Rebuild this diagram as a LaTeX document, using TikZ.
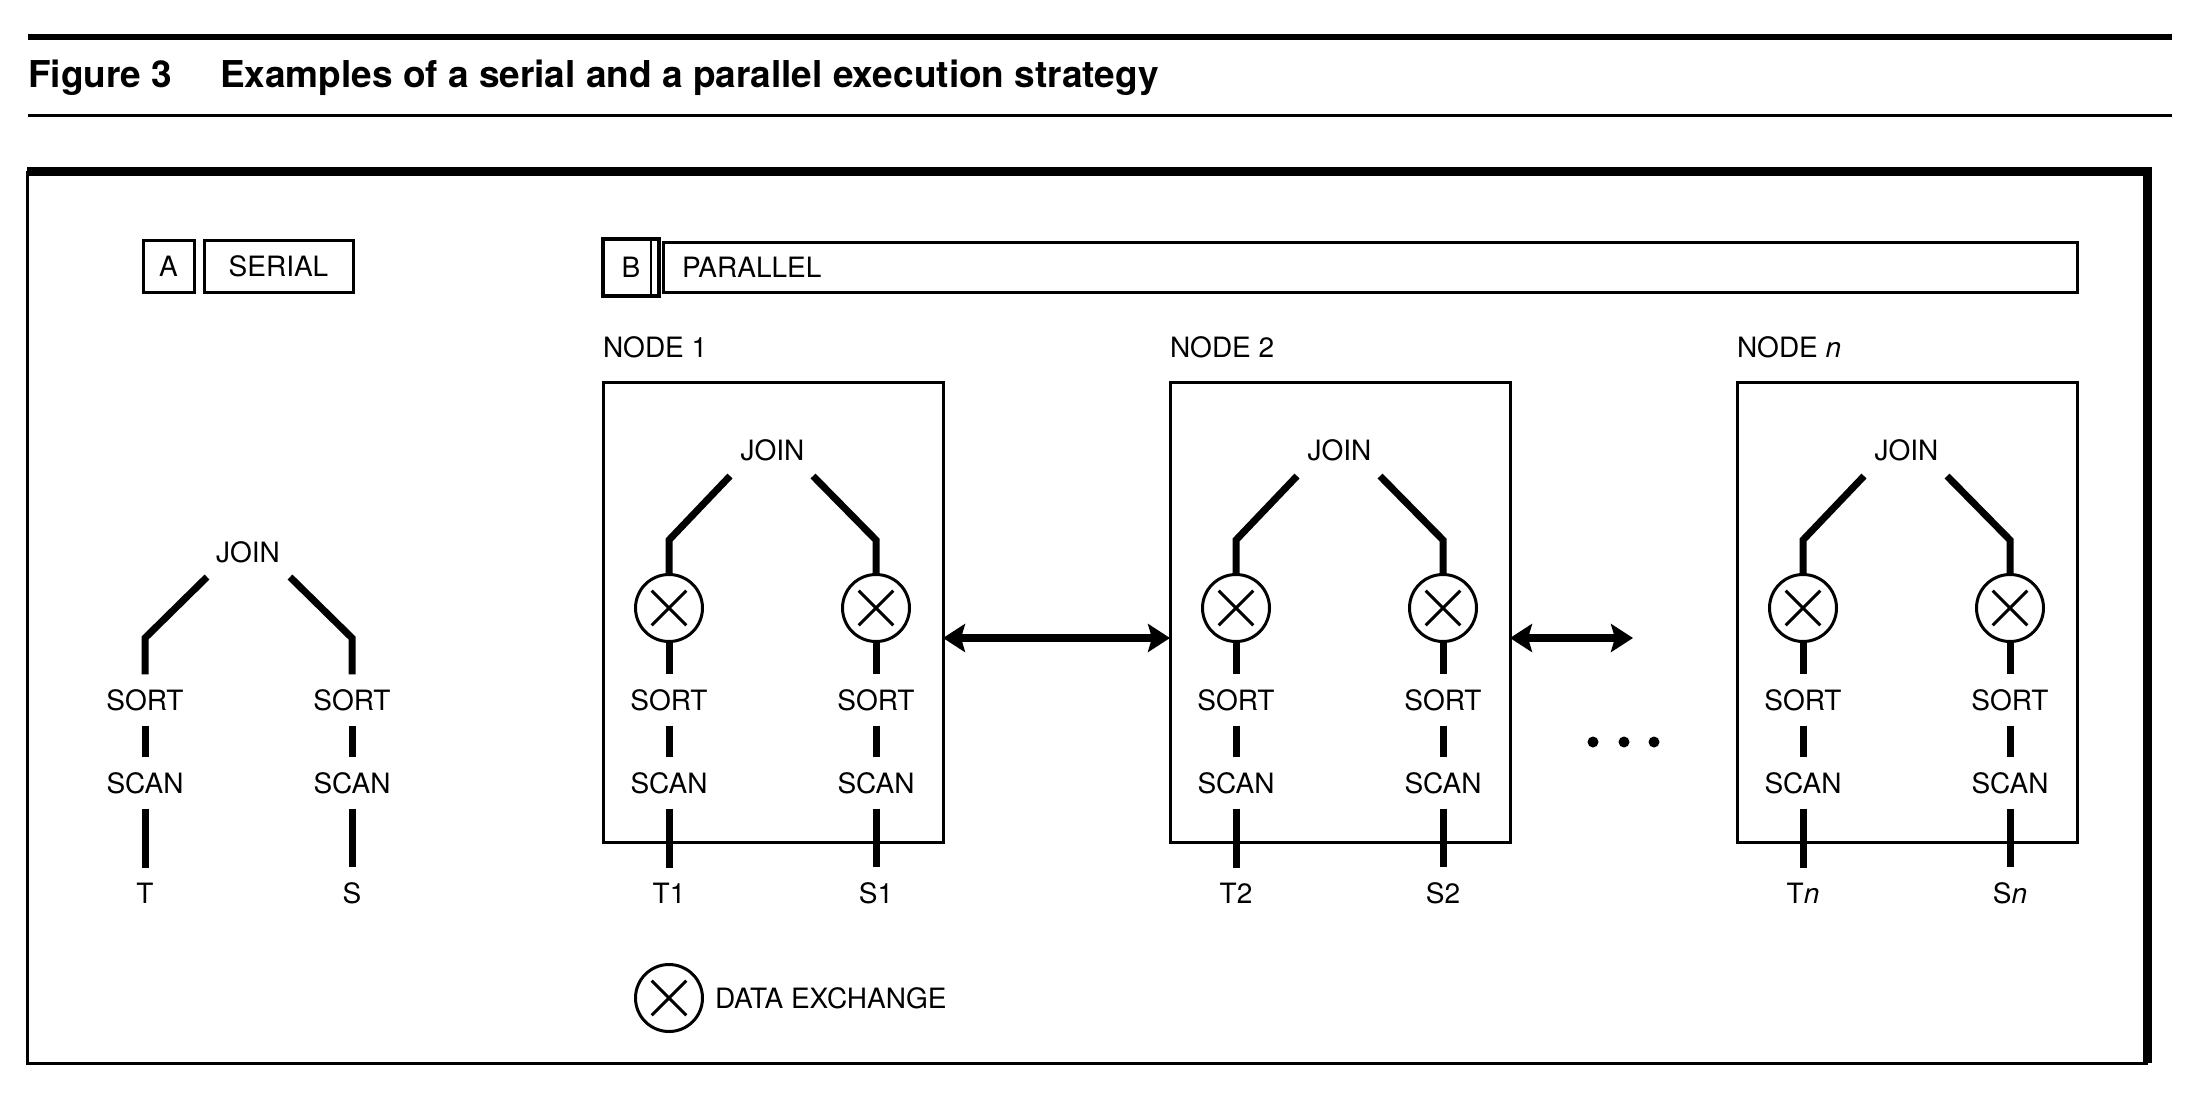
\documentclass[tikz,border=0pt]{standalone}
\usepackage{fontspec}
\setmainfont{TeX Gyre Heros}
\usetikzlibrary{arrows.meta}
\begin{document}
\begin{tikzpicture}[x=1pt,y=-1pt,
  lbl/.style={font=\fontsize{28}{30}\selectfont, inner sep=0pt, outer sep=0pt},
  ttl/.style={font=\fontsize{37}{40}\selectfont\bfseries, inner sep=0pt, anchor=base west},
  tree/.style={line width=7pt},
  vlink/.style={tree, shorten <=15pt, shorten >=15pt},
  boxline/.style={draw, line width=3pt, inner sep=0pt, outer sep=0pt},
  xc/.style={circle, draw, line width=3pt, minimum size=67pt, inner sep=0pt, outer sep=0pt},
  xline/.style={line width=3pt, shorten <=9pt, shorten >=9pt},
  dbl/.style={line width=8pt, {Stealth[length=22pt,width=28pt,inset=4pt]}-{Stealth[length=22pt,width=28pt,inset=4pt]}},
  dotmark/.style={circle, fill, inner sep=0pt, minimum size=11pt},
]
\useasboundingbox (0,0) rectangle (2196,1112);
\fill[white] (0,0) rectangle (2196,1112);

% title and rules
\draw[line width=6pt] (28,37) -- (2172,37);
\draw[line width=3pt] (28,115) -- (2172,115);
\node[ttl] (fig) at (28,87) {Figure 3};
\node[ttl] (title) at (220,87) {Examples of a serial and a parallel execution strategy};

% frame
\draw[line width=3pt] (27,172) rectangle (2146,1063);
\draw[line width=9pt] (27,171) -- (2147,171) -- (2147,1063);

% headers
\node[lbl, boxline, minimum width=51pt, minimum height=52pt, anchor=north west] (boxA) at (143,240) {A};
\node[lbl, boxline, minimum width=149pt, minimum height=52pt, anchor=north west] (boxSer) at (204,240) {SERIAL};
\node[lbl, draw, line width=4.5pt, inner sep=0pt, minimum width=56pt, minimum height=57pt, anchor=north west] (boxB) at (603,239) {B};
\draw[line width=2.5pt] ([xshift=-8pt]boxB.north east) -- ([xshift=-8pt]boxB.south east);
\node[boxline, minimum width=1414pt, minimum height=50pt, anchor=north west] (boxPar) at (663,242) {};
\node[lbl, anchor=west] (parTxt) at (682,267) {PARALLEL};

% serial tree
\node[lbl] (joinS) at (248,552) {JOIN};
\coordinate (jlS) at (207,577); \coordinate (blS) at (145,638);
\coordinate (jrS) at (290,577); \coordinate (brS) at (352,638);
\node[lbl] (sortSL) at (145,700) {SORT};
\node[lbl] (scanSL) at (145,783) {SCAN};
\node[lbl] (tS) at (145,893) {T};
\node[lbl] (sortSR) at (352,700) {SORT};
\node[lbl] (scanSR) at (352,783) {SCAN};
\node[lbl] (sS) at (352,893) {S};
\draw[tree] (jlS) -- (blS) -- ([yshift=15pt]sortSL.north);
\draw[tree] (jrS) -- (brS) -- ([yshift=15pt]sortSR.north);
\draw[vlink] (sortSL) -- (scanSL);
\draw[vlink] (scanSL) -- (tS);
\draw[vlink] (sortSR) -- (scanSR);
\draw[vlink] (scanSR) -- (sS);

% parallel nodes
\foreach \ox/\k/\nm/\tlab/\slab in {603/1/1/T1/S1, 1170/2/2/T2/S2, 1737/n/\textit{n}/T\textit{n}/S\textit{n}}{
  \node[boxline, minimum width=340pt, minimum height=460pt, anchor=north west] (box\k) at (\ox,382) {};
  \node[lbl, anchor=west] (nl\k) at (\ox,347) {NODE \nm};
  \node[lbl] (join\k) at (\ox+169.5,450) {JOIN};
  \node[xc] (xl\k) at (\ox+66,608) {};
  \node[xc] (xr\k) at (\ox+273,608) {};
  \coordinate (jl\k) at (\ox+127,476); \coordinate (bl\k) at (\ox+66,540);
  \coordinate (jr\k) at (\ox+210,476); \coordinate (br\k) at (\ox+273,540);
  \draw[tree] (jl\k) -- (bl\k) -- (xl\k.north);
  \draw[tree] (jr\k) -- (br\k) -- (xr\k.north);
  \draw[xline] (xl\k.45) -- (xl\k.225);
  \draw[xline] (xl\k.135) -- (xl\k.315);
  \draw[xline] (xr\k.45) -- (xr\k.225);
  \draw[xline] (xr\k.135) -- (xr\k.315);
  \node[lbl] (sl\k) at (\ox+66,700) {SORT};
  \node[lbl] (cl\k) at (\ox+66,783) {SCAN};
  \node[lbl] (tl\k) at (\ox+66,893) {\tlab};
  \node[lbl] (sr\k) at (\ox+273,700) {SORT};
  \node[lbl] (cr\k) at (\ox+273,783) {SCAN};
  \node[lbl] (tr\k) at (\ox+273,893) {\slab};
  \draw[tree, shorten >=15pt] (xl\k) -- (sl\k);
  \draw[tree, shorten >=15pt] (xr\k) -- (sr\k);
  \draw[vlink] (sl\k) -- (cl\k);
  \draw[vlink] (cl\k) -- (tl\k);
  \draw[vlink] (sr\k) -- (cr\k);
  \draw[vlink] (cr\k) -- (tr\k);
}

% exchange arrows
\draw[dbl] ([yshift=-26pt]box1.east) -- ([yshift=-26pt]box2.west);
\coordinate (arrEnd) at (1633,638);
\draw[dbl] ([yshift=-26pt]box2.east) -- (arrEnd);

% ellipsis dots
\node[dotmark] (d1) at (1593,742) {};
\node[dotmark] (d2) at (1624,742) {};
\node[dotmark] (d3) at (1654,742) {};

% legend
\node[xc] (lgX) at (669,998) {};
\draw[xline] (lgX.45) -- (lgX.225);
\draw[xline] (lgX.135) -- (lgX.315);
\node[lbl, anchor=west] (lgT) at (715,998) {DATA EXCHANGE};
\end{tikzpicture}
\end{document}
